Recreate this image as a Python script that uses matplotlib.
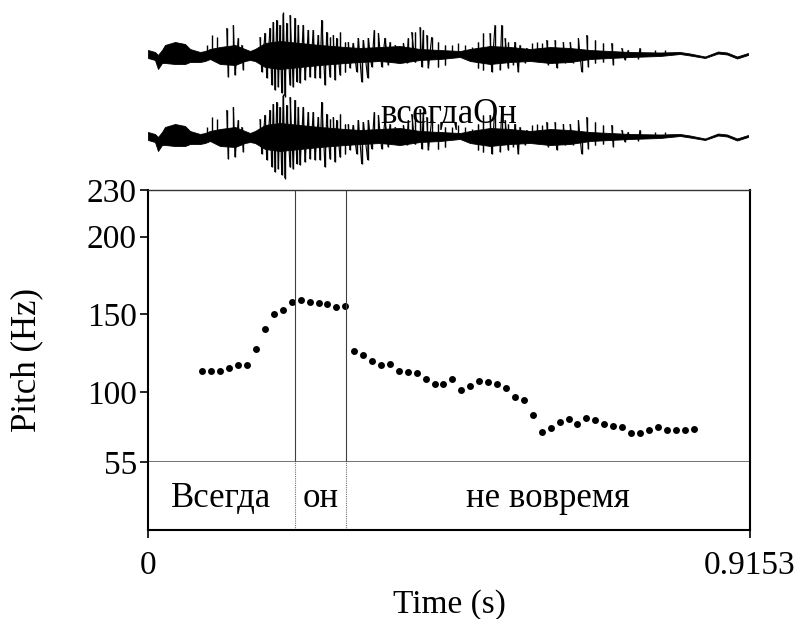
#import libraries
import numpy as np
import matplotlib.pyplot as plt
from matplotlib.collections import LineCollection

plt.rcParams['font.family'] = ['Liberation Serif', 'DejaVu Serif']

#define variables
T_END = 0.9153
W, H = 795, 619

#pitch track (s, Hz)
pitch_t = [0.0826, 0.0958, 0.1095, 0.1232, 0.1368, 0.1505, 0.1642, 0.1779,
           0.1911, 0.2048, 0.2185, 0.2322, 0.2459, 0.2595, 0.2726, 0.2863,
           0.3000, 0.3137, 0.3274, 0.3410, 0.3543, 0.3679, 0.3816, 0.3949,
           0.4085, 0.4222, 0.4359, 0.4490, 0.4627, 0.4764, 0.4900, 0.5037,
           0.5174, 0.5311, 0.5443, 0.5580, 0.5717, 0.5854, 0.5986, 0.6123,
           0.6260, 0.6397, 0.6527, 0.6664, 0.6801, 0.6938, 0.7075, 0.7207,
           0.7344, 0.7481, 0.7617, 0.7754, 0.7891, 0.8028, 0.8160, 0.8297]
pitch_hz = [113.7, 113.4, 113.7, 115.5, 117.2, 117.2, 127.5, 140.6,
            150.4, 152.8, 157.9, 159.0, 158.1, 157.1, 156.5, 154.7,
            155.2, 126.4, 123.8, 120.2, 117.6, 118.1, 113.5, 112.7,
            112.3, 108.6, 105.4, 105.4, 108.2, 101.3, 103.9, 106.9,
            106.7, 105.4, 102.4, 96.8, 95.1, 85.4, 74.3, 76.7,
            80.5, 82.7, 79.4, 83.5, 82.0, 79.4, 78.3, 77.3,
            73.8, 73.8, 75.6, 77.7, 75.6, 75.6, 75.6, 76.4]

#text tier
bounds = [0.2235, 0.3004]
words = ['Всегда', 'он', 'не вовремя']

#waveform: dense core envelope
core_t = [0.0000, 0.0106, 0.0152, 0.0213, 0.0258, 0.0411, 0.0563, 0.0639,
          0.0791, 0.0867, 0.0943, 0.1095, 0.1323, 0.1475, 0.1551, 0.1627,
          0.1779, 0.2007, 0.2311, 0.2615, 0.2995, 0.3224, 0.3528, 0.3832,
          0.4136, 0.4440, 0.4744, 0.4896, 0.5200, 0.5504, 0.5808, 0.6112,
          0.6416, 0.6720, 0.7024, 0.7328, 0.7785, 0.8089, 0.8241, 0.8469,
          0.8667, 0.8804, 0.8956, 0.9123]
core_hi = [0.05, 0.03, 0.00, 0.05, 0.10, 0.13, 0.11, 0.06,
           0.03, 0.04, 0.06, 0.08, 0.10, 0.06, 0.04, 0.06,
           0.12, 0.14, 0.12, 0.10, 0.08, 0.07, 0.08, 0.09,
           0.06, 0.05, 0.04, 0.06, 0.09, 0.08, 0.06, 0.08,
           0.07, 0.05, 0.04, 0.03, 0.025, 0.03, 0.015, -0.015,
           0.035, 0.025, -0.015, 0.02]
core_lo = [-0.03, -0.05, -0.14, -0.08, -0.08, -0.09, -0.09, -0.07,
           -0.07, -0.06, -0.04, -0.09, -0.10, -0.06, -0.05, -0.06,
           -0.12, -0.14, -0.12, -0.10, -0.08, -0.07, -0.06, -0.08,
           -0.05, -0.04, -0.02, -0.06, -0.09, -0.07, -0.06, -0.08,
           -0.07, -0.04, -0.03, -0.02, -0.01, 0.01, -0.005, -0.03,
           0.015, 0.005, -0.035, 0.00]

#waveform: upward peaks
up_t = [0.0893, 0.0969, 0.1045, 0.1197, 0.1297, 0.1373, 0.1425, 0.1703,
        0.1779, 0.1855, 0.1905, 0.1957, 0.2007, 0.2057, 0.2109, 0.2159,
        0.2235, 0.2285, 0.2361, 0.2437, 0.2513, 0.2589, 0.2641, 0.2717,
        0.2767, 0.2817, 0.2869, 0.2919, 0.2995, 0.3045, 0.3121, 0.3198,
        0.3274, 0.3350, 0.3441, 0.3502, 0.3603, 0.3680, 0.3756, 0.3882,
        0.3958, 0.4009, 0.4060, 0.4136, 0.4186, 0.4238, 0.4314, 0.4414,
        0.4516, 0.4618, 0.4718, 0.4820, 0.4922, 0.5022, 0.5098, 0.5200,
        0.5276, 0.5378, 0.5428, 0.5478, 0.5580, 0.5656, 0.5758, 0.5834,
        0.5910, 0.5986, 0.6062, 0.6188, 0.6314, 0.6416, 0.6543, 0.6670,
        0.6796, 0.6923, 0.7050, 0.7202, 0.7303, 0.7481, 0.7709, 0.7861]
up_a = [0.10, 0.20, 0.18, 0.27, 0.30, 0.17, 0.10, 0.18,
        0.22, 0.27, 0.33, 0.35, 0.30, 0.43, 0.32, 0.40,
        0.37, 0.30, 0.30, 0.25, 0.25, 0.20, 0.35, 0.23,
        0.18, 0.20, 0.17, 0.23, 0.13, 0.13, 0.12, 0.17,
        0.15, 0.17, 0.25, 0.22, 0.17, 0.13, 0.10, 0.12,
        0.17, 0.23, 0.23, 0.28, 0.25, 0.20, 0.18, 0.13,
        0.10, 0.10, 0.12, 0.10, 0.08, 0.13, 0.22, 0.22,
        0.30, 0.30, 0.17, 0.13, 0.13, 0.10, 0.07, 0.12,
        0.13, 0.12, 0.15, 0.15, 0.13, 0.13, 0.17, 0.20,
        0.15, 0.12, 0.12, 0.07, 0.05, 0.07, 0.05, 0.05]

#waveform: downward peaks
dn_t = [0.1221, 0.1323, 0.1449, 0.1729, 0.1805, 0.1881, 0.1931, 0.1981,
        0.2033, 0.2083, 0.2159, 0.2209, 0.2261, 0.2311, 0.2387, 0.2463,
        0.2539, 0.2615, 0.2691, 0.2767, 0.2843, 0.2919, 0.2995, 0.3071,
        0.3173, 0.3249, 0.3340, 0.3401, 0.3553, 0.3654, 0.3806, 0.3933,
        0.4060, 0.4161, 0.4262, 0.4414, 0.4516, 0.5022, 0.5098, 0.5226,
        0.5352, 0.5478, 0.5554, 0.5630, 0.5732, 0.6086, 0.6214, 0.6340,
        0.6467, 0.6594, 0.6695, 0.6796, 0.6923, 0.7075, 0.7253, 0.7455]
dn_a = [-0.22, -0.20, -0.15, -0.17, -0.23, -0.30, -0.35, -0.32,
        -0.38, -0.42, -0.30, -0.32, -0.27, -0.28, -0.25, -0.22,
        -0.23, -0.23, -0.30, -0.22, -0.25, -0.20, -0.17, -0.13,
        -0.17, -0.27, -0.23, -0.12, -0.12, -0.10, -0.08, -0.08,
        -0.07, -0.12, -0.13, -0.12, -0.10, -0.13, -0.15, -0.17,
        -0.15, -0.13, -0.10, -0.17, -0.08, -0.10, -0.13, -0.08,
        -0.08, -0.17, -0.12, -0.08, -0.07, -0.10, -0.05, -0.04]


def box(px_left, px_top, px_right, px_bottom):
    return [px_left / W, 1 - px_bottom / H, (px_right - px_left) / W, (px_bottom - px_top) / H]


#zigzag only between close neighbouring peaks of opposite sign
peaks = sorted(zip(up_t + dn_t, up_a + dn_a))
zig = [[p, q] for p, q in zip(peaks[:-1], peaks[1:])
       if p[1] * q[1] < 0 and q[0] - p[0] < 0.007]

fig = plt.figure(figsize=(W / 100, H / 100), dpi=100)

#two identical waveform channels
for top, bot in [(14, 96), (96, 178)]:
    ax_w = fig.add_axes(box(148, top, 750, bot))
    ax_w.fill_between(core_t, core_lo, core_hi, color='black', lw=0.6)
    ax_w.vlines(up_t, 0, up_a, color='black', lw=1.0, clip_on=False)
    ax_w.vlines(dn_t, 0, dn_a, color='black', lw=1.0, clip_on=False)
    ax_w.add_collection(LineCollection(zig, colors='black', lw=0.8))
    ax_w.set_xlim(0, T_END)
    ax_w.set_ylim(-0.41, 0.41)
    ax_w.axis('off')

fig.text(449 / W, 1 - 123 / H, 'всегдаОн', ha='center', va='baseline', fontsize=25, zorder=5)

#pitch panel
ax = fig.add_axes(box(148, 190, 750, 462))
ax.plot(pitch_t, pitch_hz, 'o', color='black', ms=5.0, mew=0)
for b in bounds:
    ax.axvline(b, color='0.25', lw=0.8)
ax.set_xlim(0, T_END)
ax.set_ylim(55, 230)
ax.set_yticks([55, 100, 150, 200, 230])
ax.tick_params(axis='y', direction='out', length=6, width=1.2, labelsize=24, pad=2)
ax.set_xticks([])
ax.spines['left'].set_linewidth(1.5)
ax.spines['right'].set_linewidth(1.5)
ax.spines['top'].set_linewidth(1.0)
ax.spines['top'].set_color('0.2')
ax.spines['bottom'].set_linewidth(1.2)
ax.spines['bottom'].set_color('0.35')

fig.text(27 / W, 1 - 360 / H, 'Pitch (Hz)', rotation=90, ha='center', va='center', fontsize=25)

#text tier
ax_t = fig.add_axes(box(148, 462, 750, 530))
edges = [0] + bounds + [T_END]
for b in bounds:
    ax_t.axvline(b, color='0.45', lw=0.8, ls=(0, (1, 1)))
for i, w in enumerate(words):
    ax_t.text((edges[i] + edges[i + 1]) / 2, 0.47, w, ha='center', va='center',
              fontsize=25, transform=ax_t.get_xaxis_transform())
ax_t.set_xlim(0, T_END)
ax_t.set_ylim(0, 1)
ax_t.set_yticks([])
ax_t.set_xticks([0, T_END])
ax_t.set_xticklabels(['0', '0.9153'])
ax_t.tick_params(axis='x', direction='out', length=6, width=1.2, labelsize=24, pad=9)
ax_t.spines['top'].set_visible(False)
for s in ['left', 'right', 'bottom']:
    ax_t.spines[s].set_linewidth(1.5)
ax_t.set_xlabel('Time (s)', fontsize=24, labelpad=6)

plt.savefig('out.png', dpi=100)
